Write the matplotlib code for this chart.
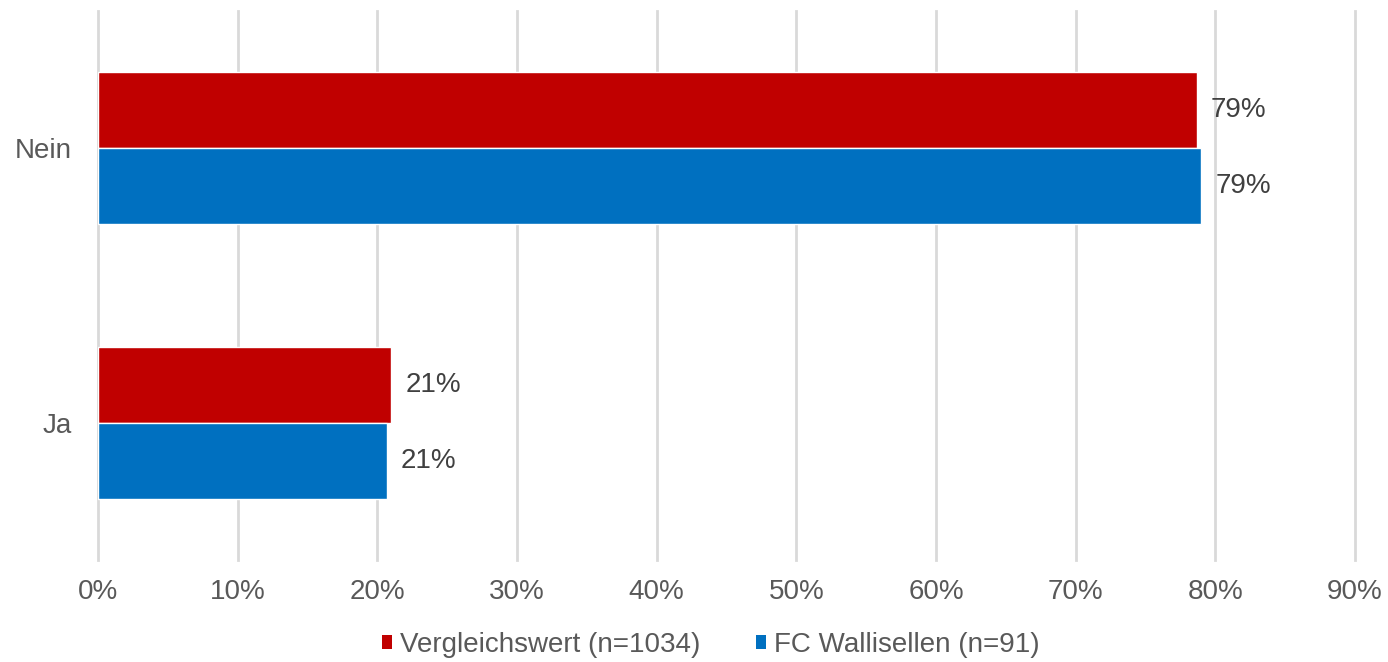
import numpy as np
import matplotlib.pyplot as plt
import matplotlib
from matplotlib.patches import Patch

matplotlib.rcParams['font.family'] = ['Liberation Sans', 'DejaVu Sans']
matplotlib.rcParams['font.size'] = 20

# Antworten (unten -> oben)
categories = ['Ja', 'Nein']
vergleich = [21.0, 78.7]      # Vergleichswert (n=1034)
wallisellen = [20.7, 79.0]    # FC Wallisellen (n=91)
series_names = ['Vergleichswert (n=1034)', 'FC Wallisellen (n=91)']
xticks = np.arange(0, 91, 10)

red = '#C00000'
blue = '#0070C0'
grid_col = '#D9D9D9'
text_col = '#595959'
label_col = '#404040'

fig = plt.figure(figsize=(13.88, 6.62), dpi=100)
ax = fig.add_axes([98 / 1388, 1 - 560 / 662, (1355 - 98) / 1388, 549 / 662])

y = np.arange(len(categories))
h = 0.277

b1 = ax.barh(y + h / 2, vergleich, height=h, color=red, edgecolor='white', linewidth=1, zorder=3)
b2 = ax.barh(y - h / 2, wallisellen, height=h, color=blue, edgecolor='white', linewidth=1, zorder=3)

# Wertebeschriftung rechts neben den Balken
for bars, vals in ((b1, vergleich), (b2, wallisellen)):
    for bar, v in zip(bars, vals):
        ax.annotate(f'{v:.0f}%', (v, bar.get_y() + bar.get_height() / 2),
                    xytext=(10, 0), textcoords='offset points',
                    ha='left', va='center', color=label_col, fontsize=20)

ax.set_xlim(0, 90)
ax.set_ylim(-0.5, len(categories) - 0.5)
ax.set_xticks(xticks)
ax.set_xticklabels([f'{t}%' for t in xticks], color=text_col)
ax.set_yticks(y)
ax.set_yticklabels(categories, color=text_col)
ax.tick_params(axis='both', length=0)
ax.tick_params(axis='x', pad=14)
ax.tick_params(axis='y', pad=19)

for s in ax.spines.values():
    s.set_visible(False)
ax.grid(axis='x', color=grid_col, linewidth=2, zorder=0)
for gl in ax.get_xgridlines():
    gl.set_clip_on(False)
ax.set_axisbelow(True)

handles = [Patch(facecolor=red), Patch(facecolor=blue)]
leg = fig.legend(handles, series_names, loc='center', bbox_to_anchor=(0.512, 1 - 645 / 662),
                 ncol=2, frameon=False, fontsize=20, handlelength=0.35, handleheight=0.35,
                 handletextpad=0.3, columnspacing=2.0)
for t in leg.get_texts():
    t.set_color(text_col)

plt.savefig('out.png', dpi=100)
plt.close()
